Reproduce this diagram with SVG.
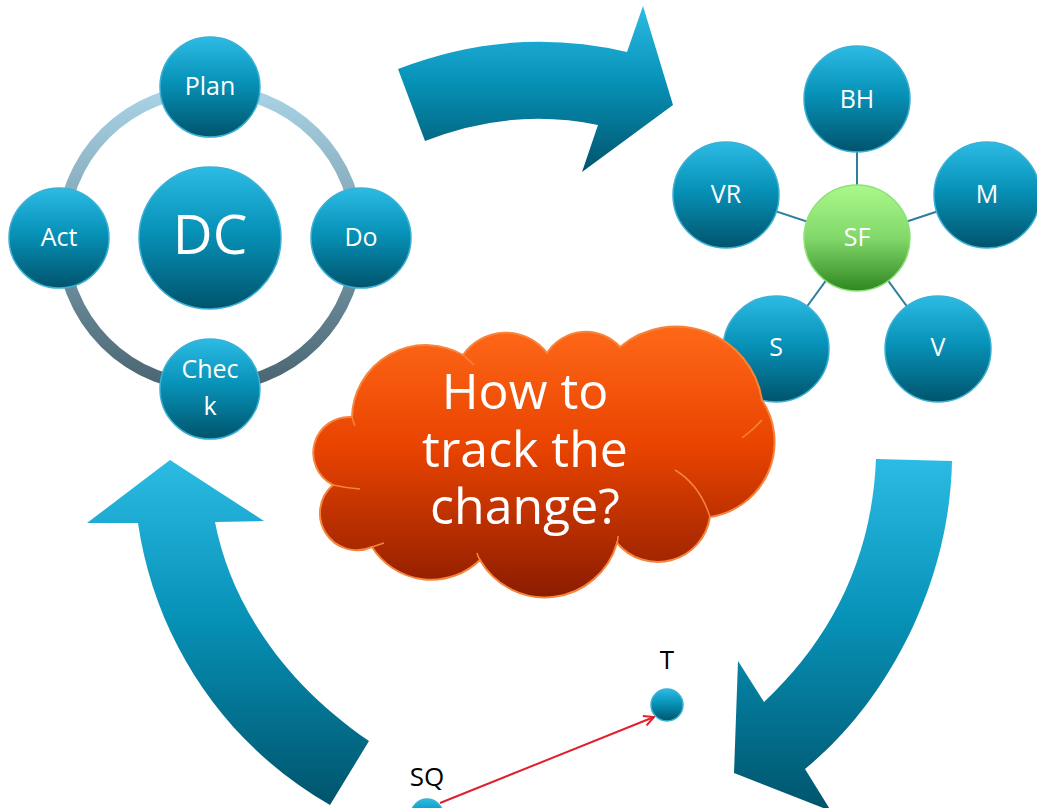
<svg xmlns="http://www.w3.org/2000/svg" width="1037" height="808" viewBox="0 0 1037 808">
<defs>
<linearGradient id="blue" x1="0" y1="0" x2="0" y2="1">
<stop offset="0" stop-color="#2cbbe4"/>
<stop offset="0.45" stop-color="#0792b8"/>
<stop offset="1" stop-color="#00546c"/>
</linearGradient>
<linearGradient id="green" x1="0" y1="0" x2="0" y2="1">
<stop offset="0" stop-color="#a9f98a"/>
<stop offset="0.5" stop-color="#82d86a"/>
<stop offset="1" stop-color="#2e8720"/>
</linearGradient>
<linearGradient id="ring" x1="0" y1="0" x2="0" y2="1">
<stop offset="0" stop-color="#a9d4e6"/>
<stop offset="1" stop-color="#4a6572"/>
</linearGradient>
<linearGradient id="cloudFill" x1="0" y1="0" x2="0" y2="1">
<stop offset="0" stop-color="#ff6818"/>
<stop offset="0.45" stop-color="#e84300"/>
<stop offset="1" stop-color="#8c1c00"/>
</linearGradient>
<marker id="openArrow" viewBox="0 0 12 12" refX="11" refY="6" markerWidth="12" markerHeight="12" markerUnits="userSpaceOnUse" orient="auto">
<path d="M1,1 L11,6 L1,11" fill="none" stroke="#e0202a" stroke-width="2"/>
</marker>
<style>
.node{fill:url(#blue);stroke:#3bb0d4;stroke-width:1.5}
.sf{fill:url(#green);stroke:#8fe078;stroke-width:1.5}
.lbl{font-family:"Open Sans","Liberation Sans",sans-serif;fill:#ffffff;text-anchor:middle}
.s25{font-size:25px}
.big{font-size:55px}
.cloudtxt{font-size:50px}
.dark{font-family:"Open Sans","Liberation Sans",sans-serif;fill:#000000;text-anchor:middle;font-size:26px}
.spoke{stroke:#2b7e9c;stroke-width:2}
.fold{fill:none;stroke:#f7843c;stroke-width:1.5}
.bigarrow{fill:url(#blue)}
</style>
</defs>
<rect width="1037" height="808" fill="#ffffff"/>

<g id="cycle-arrows">
<path class="bigarrow" d="M398,69 Q512,25 627,52 L643,6 L673,105 L582,172 L598,125 Q512,107 425,141 Z"/>
<path class="bigarrow" d="M876,459 L952,461 C950,580 890,700 805,769 L831,811 L734,773 L738,661 L764,702 C830,640 872,560 876,459 Z"/>
<path class="bigarrow" d="M330,805 C225,745 155,640 138,523 L87,523 L170,460 L264,521 L215,522 C230,600 280,680 369,741 Z"/>
</g>

<g id="connectors">
<circle id="pdca-ring" cx="210" cy="238" r="148" fill="none" stroke="url(#ring)" stroke-width="12"/>
<line class="spoke" x1="857" y1="99" x2="857" y2="238"/>
<line class="spoke" x1="726" y1="195" x2="857" y2="238"/>
<line class="spoke" x1="987" y1="195" x2="857" y2="238"/>
<line class="spoke" x1="776" y1="349" x2="857" y2="238"/>
<line class="spoke" x1="938" y1="349" x2="857" y2="238"/>
<line id="sq-to-t" x1="440" y1="803" x2="654" y2="717" stroke="#e0202a" stroke-width="2" marker-end="url(#openArrow)"/>
</g>

<g id="node-plan"><circle class="node" cx="210" cy="87" r="50"/><text class="lbl s25" x="210" y="95">Plan</text></g>
<g id="node-do"><circle class="node" cx="361" cy="238" r="50"/><text class="lbl s25" x="361" y="246">Do</text></g>
<g id="node-act"><circle class="node" cx="59" cy="238" r="50"/><text class="lbl s25" x="59" y="246">Act</text></g>
<g id="node-check"><circle class="node" cx="210" cy="389" r="50"/><text class="lbl s25" x="210" y="378">Chec</text><text class="lbl s25" x="210" y="415">k</text></g>
<g id="node-dc"><circle class="node" cx="210" cy="238" r="71"/><text class="lbl big" x="210" y="254">DC</text></g>

<g id="node-bh"><circle class="node" cx="857" cy="99" r="53"/><text class="lbl s25" x="857" y="108">BH</text></g>
<g id="node-vr"><circle class="node" cx="726" cy="195" r="53"/><text class="lbl s25" x="726" y="203">VR</text></g>
<g id="node-m"><circle class="node" cx="987" cy="195" r="53"/><text class="lbl s25" x="987" y="203">M</text></g>
<g id="node-s"><circle class="node" cx="776" cy="349" r="53"/><text class="lbl s25" x="776" y="356">S</text></g>
<g id="node-v"><circle class="node" cx="938" cy="349" r="53"/><text class="lbl s25" x="938" y="356">V</text></g>
<g id="node-sf"><circle class="sf" cx="857" cy="238" r="53"/><text class="lbl s25" x="857" y="246">SF</text></g>

<g id="node-cloud">
<path d="M352,417 A36,36 0 0 0 333,485 A37,37 0 0 0 372,547 A70,70 0 0 0 480,560 A75,75 0 0 0 617,543 A53,53 0 0 0 710,517 A76,76 0 0 0 762,400 A87,87 0 0 0 620,347 A46,46 0 0 0 547,353 A52,52 0 0 0 463,355 A74,74 0 0 0 352,417 Z" fill="url(#cloudFill)" stroke="#f7843c" stroke-width="2"/>
<path class="fold" d="M352,417 Q353,421 355,426"/>
<path class="fold" d="M333,485 Q346,488 360,489"/>
<path class="fold" d="M372,547 Q378,545 384,543"/>
<path class="fold" d="M480,560 Q478,557 477,553"/>
<path class="fold" d="M617,543 Q618,540 618,536"/>
<path class="fold" d="M675,470 Q700,485 710,517"/>
<path class="fold" d="M742,438 Q753,430 762,420"/>
<path class="fold" d="M463,355 Q469,360 474,365"/>
<text class="lbl cloudtxt" x="525" y="409">How to</text>
<text class="lbl cloudtxt" x="525" y="467">track the</text>
<text class="lbl cloudtxt" x="525" y="524">change?</text>
</g>

<g id="node-t"><circle class="node" cx="667" cy="705" r="16"/><text class="dark" x="667" y="669">T</text></g>
<g id="node-sq"><circle class="node" cx="427" cy="815" r="16"/><text class="dark" x="427" y="786">SQ</text></g>
</svg>
